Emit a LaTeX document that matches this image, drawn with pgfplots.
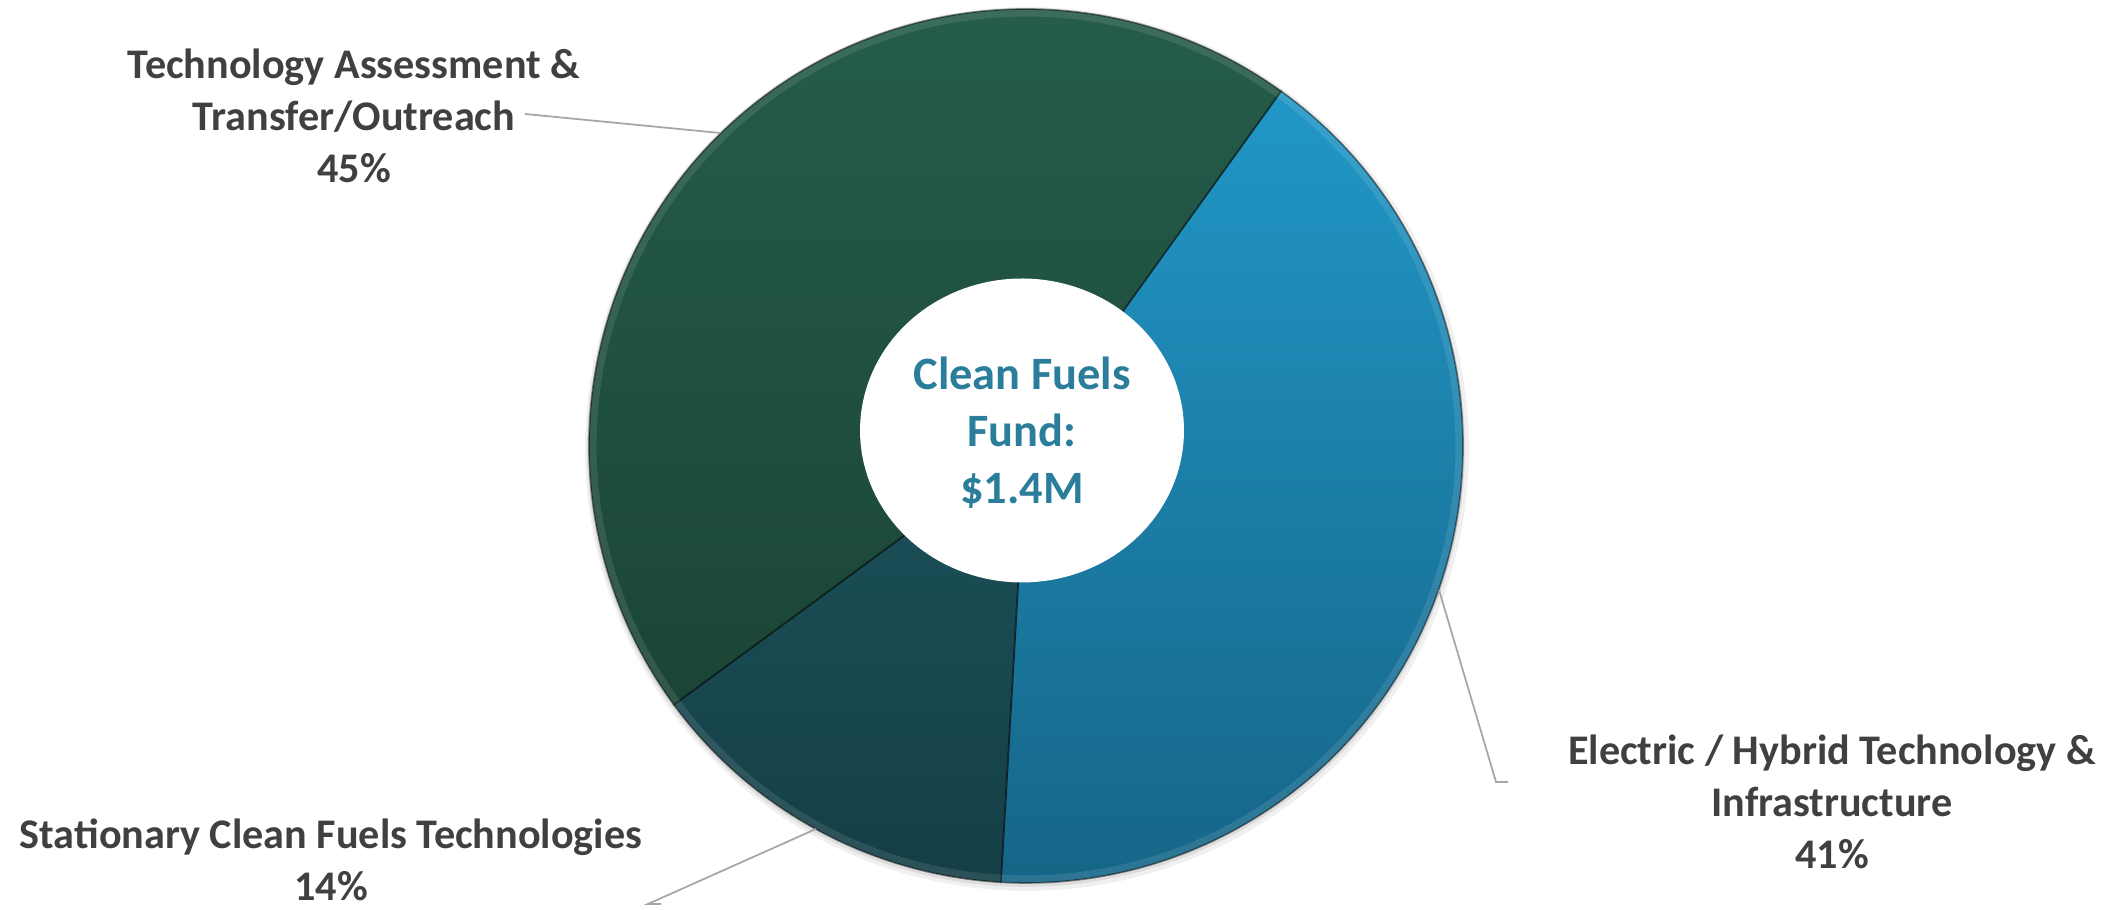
\documentclass[border=0pt]{standalone}
\usepackage{pgfplots}
\pgfplotsset{compat=1.18}
\usepackage{fontspec}
\setmainfont{Carlito}
\definecolor{txt}{HTML}{404040}
\definecolor{ctr}{HTML}{2B7D9C}
\definecolor{leader}{HTML}{A6A6A6}
\definecolor{techT}{HTML}{255C4B}
\definecolor{techB}{HTML}{1B4536}
\definecolor{elecT}{HTML}{2197C7}
\definecolor{elecB}{HTML}{166587}
\definecolor{statT}{HTML}{1B5159}
\definecolor{statB}{HTML}{153E46}
% shares (percent)
\def\pElec{41}
\def\pStat{14}
\def\pTech{45}
\pgfmathsetmacro\aA{54.3}
\pgfmathsetmacro\aB{\aA-3.6*\pElec}
\pgfmathsetmacro\aC{\aB-3.6*\pStat}
\pgfmathsetmacro\aD{\aC-3.6*\pTech}
\begin{document}
\begin{tikzpicture}
\begin{axis}[width=211.8mm, height=91mm, scale only axis, hide axis,
  xmin=0, xmax=2118, ymin=0, ymax=910, clip=false]
\addplot[draw=none, forget plot] coordinates {(0,0) (2118,910)};
% soft shadow
\addplot[fill=black, fill opacity=0.06, draw=none, domain=0:360, samples=150, variable=\t]
  ({1027+442*cos(\t)}, {461+442*sin(\t)}) -- cycle;
\addplot[fill=black, fill opacity=0.08, draw=none, domain=0:360, samples=150, variable=\t]
  ({1026+439*cos(\t)}, {462+439*sin(\t)}) -- cycle;
% slices
\addplot[top color=elecT, bottom color=elecB, draw=black, draw opacity=0.45, line width=0.5pt,
  domain=\aB:\aA, samples=120, variable=\t]
  ({1026+437*cos(\t)}, {464+437*sin(\t)}) -- (axis cs:1026,464) -- cycle;
\addplot[top color=statT, bottom color=statB, draw=black, draw opacity=0.45, line width=0.5pt,
  domain=\aC:\aB, samples=60, variable=\t]
  ({1026+437*cos(\t)}, {464+437*sin(\t)}) -- (axis cs:1026,464) -- cycle;
\addplot[top color=techT, bottom color=techB, draw=black, draw opacity=0.45, line width=0.5pt,
  domain=\aD:\aC, samples=140, variable=\t]
  ({1026+437*cos(\t)}, {464+437*sin(\t)}) -- (axis cs:1026,464) -- cycle;
% soft highlight along outer rim
\addplot[draw=white, draw opacity=0.10, line width=2pt, domain=\aD:\aA, samples=200, variable=\t]
  ({1026+433*cos(\t)}, {464+433*sin(\t)});
% centre hole
\addplot[fill=white, draw=none, domain=0:360, samples=150, variable=\t]
  ({1022+162*cos(\t)}, {479.5+152*sin(\t)}) -- cycle;
% leader lines
\addplot[leader, line width=0.5pt] coordinates {(525,796) (720,777)};
\addplot[leader, line width=0.5pt] coordinates {(661,6) (648,6) (816,81)};
\addplot[leader, line width=0.5pt] coordinates {(1439,320) (1496,128) (1508,128)};
% labels
\node[align=center, text=ctr, inner sep=0pt, font=\bfseries\fontsize{13.2}{16.2}\selectfont]
  at (axis cs:1022,477) {Clean Fuels\\Fund:\\\$1.4M};
\node[align=center, text=txt, inner sep=0pt, font=\bfseries\fontsize{12}{14.8}\selectfont]
  at (axis cs:354,794) {Technology Assessment \&\\Transfer/Outreach\\45\%};
\node[align=center, text=txt, inner sep=0pt, font=\bfseries\fontsize{12}{14.8}\selectfont]
  at (axis cs:331,50) {Stationary Clean Fuels Technologies\\14\%};
\node[align=center, text=txt, inner sep=0pt, font=\bfseries\fontsize{12}{14.8}\selectfont]
  at (axis cs:1832,108) {Electric / Hybrid Technology \&\\Infrastructure\\41\%};
\end{axis}
\pgfresetboundingbox
\path (current axis.south west) rectangle (current axis.north east);
\end{tikzpicture}
\end{document}
